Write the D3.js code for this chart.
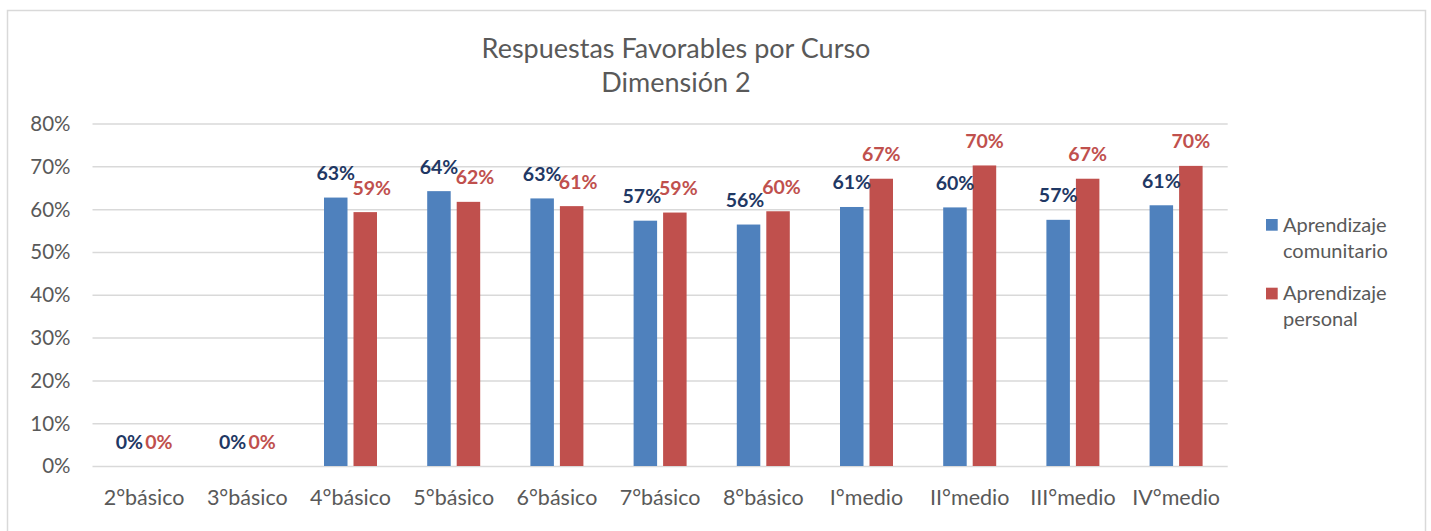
<!DOCTYPE html>
<html>
<head>
<meta charset="utf-8">
<script src="https://cdn.jsdelivr.net/npm/d3@7"></script>
<style>
  html, body { margin: 0; padding: 0; background: #fff; }
  svg { display: block; font-family: Lato, "Open Sans", sans-serif; }
</style>
</head>
<body>
<svg id="chart" width="1431" height="531"></svg>
<script>
const categories = ["2°básico","3°básico","4°básico","5°básico","6°básico","7°básico","8°básico","I°medio","II°medio","III°medio","IV°medio"];
const comunitario = [0, 0, 62.7, 64.2, 62.5, 57.3, 56.4, 60.5, 60.4, 57.5, 60.9];
const personal    = [0, 0, 59.3, 61.7, 60.7, 59.2, 59.5, 67.1, 70.2, 67.1, 70.1];
const comunitarioLabels = ["0%","0%","63%","64%","63%","57%","56%","61%","60%","57%","61%"];
const personalLabels    = ["0%","0%","59%","62%","61%","59%","60%","67%","70%","67%","70%"];
const yTicks = [0, 10, 20, 30, 40, 50, 60, 70, 80];
const seriesNames = ["Aprendizaje comunitario", "Aprendizaje personal"];
const titleLines = ["Respuestas Favorables por Curso", "Dimensión 2"];

const colors = ["#4F81BD", "#C0504D"];
const labelColors = ["#1F3864", "#C0504D"];

const svg = d3.select("#chart");

// chart border
svg.append("rect")
  .attr("x", 7.5).attr("y", 10.5)
  .attr("width", 1418).attr("height", 540)
  .attr("fill", "none").attr("stroke", "#D9D9D9").attr("stroke-width", 1.5);

const plot = { left: 92.5, right: 1227.7, top: 123.5, bottom: 466 };

const x = d3.scaleBand().domain(categories).range([plot.left, plot.right]).paddingInner(0).paddingOuter(0);
const y = d3.scaleLinear().domain([0, 80]).range([plot.bottom, plot.top]);

const barW = 23.5, gap = 6;
function barX(cat, s) {
  const c = x(cat) + x.bandwidth() / 2;
  return s === 0 ? c - gap / 2 - barW : c + gap / 2;
}

// y gridlines + tick labels via axis
const yAxis = d3.axisLeft(y).tickValues(yTicks).tickSize(-(plot.right - plot.left)).tickFormat(d => d + "%");
const gy = svg.append("g").attr("transform", `translate(${plot.left},0)`).call(yAxis);
gy.select(".domain").remove();
gy.selectAll(".tick line").attr("stroke", "#D9D9D9").attr("stroke-width", 1.5);
gy.selectAll(".tick text")
  .attr("x", -22).attr("dy", "0.34em")
  .attr("fill", "#595959").style("font-size", "20.5px").style("font-family", "Lato, sans-serif");

// x axis labels
const xAxis = d3.axisBottom(x).tickSize(0).tickPadding(0);
const gx = svg.append("g").attr("transform", `translate(0,${plot.bottom})`).call(xAxis);
gx.select(".domain").remove();
gx.selectAll(".tick text")
  .attr("y", 39).attr("dy", 0)
  .attr("fill", "#595959").style("font-size", "21.5px").style("font-family", "Lato, sans-serif");

const series = [comunitario, personal];
const labels = [comunitarioLabels, personalLabels];

series.forEach((vals, s) => {
  svg.append("g").selectAll("rect")
    .data(categories.map((c, i) => ({ c, v: vals[i] })))
    .join("rect")
    .attr("x", d => barX(d.c, s))
    .attr("y", d => y(d.v))
    .attr("width", barW)
    .attr("height", d => y(0) - y(d.v))
    .attr("fill", colors[s]);
});

function labelShift(s, i) {
  const b = comunitario[i], r = personal[i];
  if (r === 0 && b === 0) return 0;
  if (r < b) return s === 1 ? 6.5 : 0;          // red label nudged right
  const dy = Math.abs(y(r) - y(b));
  if (dy < 20) return s === 1 ? 3.5 : -3.5;      // close heights: spread apart
  return 0;
}

series.forEach((vals, s) => {
  svg.append("g").selectAll("text")
    .data(categories.map((c, i) => ({ c, i, v: vals[i], t: labels[s][i] })))
    .join("text")
    .attr("x", d => barX(d.c, s) + barW / 2 + labelShift(s, d.i))
    .attr("y", d => y(d.v) - 17.5)
    .attr("text-anchor", "middle")
    .attr("fill", labelColors[s])
    .style("font-size", "19.5px")
    .style("font-weight", "bold")
    .text(d => d.t);
});

// title
svg.append("g").selectAll("text")
  .data(titleLines)
  .join("text")
  .attr("x", 676)
  .attr("y", (d, i) => 58 + i * 34)
  .attr("text-anchor", "middle")
  .attr("fill", "#595959")
  .style("font-size", "27px")
  .text(d => d);

// legend
const legendItems = [["Aprendizaje", "comunitario"], ["Aprendizaje", "personal"]];
const lg = svg.append("g");
legendItems.forEach((lines, s) => {
  const top = 219 + s * 68.7;
  lg.append("rect").attr("x", 1266).attr("y", top).attr("width", 11.7).attr("height", 11.7).attr("fill", colors[s]);
  lines.forEach((t, j) => {
    lg.append("text")
      .attr("x", 1283).attr("y", top + 12.5 + j * 26)
      .attr("fill", "#595959")
      .style("font-size", "20px")
      .text(t);
  });
});
</script>
</body>
</html>
